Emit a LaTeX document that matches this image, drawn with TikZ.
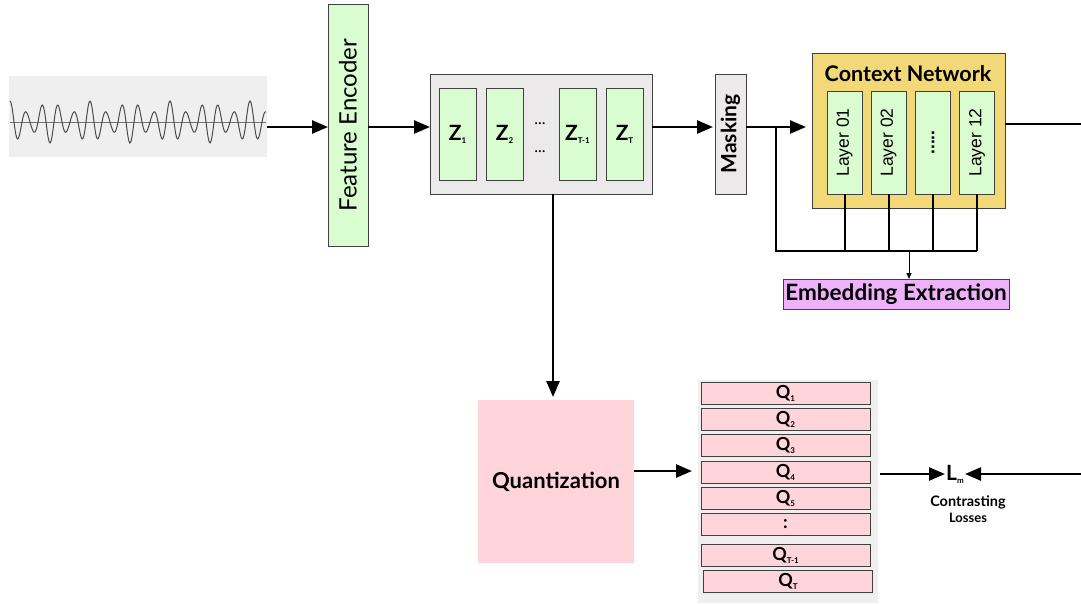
\documentclass[tikz,border=0pt]{standalone}
\usepackage{fontspec}
\setmainfont{Lato}
\newfontfamily\layerfont{Liberation Sans}
\usetikzlibrary{arrows.meta}

\definecolor{wavegray}{HTML}{EFEFEF}
\definecolor{encgreen}{HTML}{D9FCD0}
\definecolor{boxgray}{HTML}{EBE9E9}
\definecolor{ctxyellow}{HTML}{F2D877}
\definecolor{embviolet}{HTML}{EEB2FA}
\definecolor{qpink}{HTML}{FFD4DB}

\newcommand{\lowidx}[1]{\raisebox{-3pt}{\fontsize{8}{8}\selectfont #1}}

\tikzset{
    block/.style={draw=black!75, line width=1pt, inner sep=0pt, outer sep=0pt},
    zcell/.style={block, fill=encgreen, minimum width=37, minimum height=92, font=\fontsize{21}{21}\selectfont\bfseries},
    layercell/.style={block, fill=encgreen, minimum width=35, minimum height=103},
    layertext/.style={rotate=90, font=\layerfont\fontsize{17.5}{17.5}\selectfont},
    qrow/.style={block, fill=qpink, minimum width=169, minimum height=22, font=\fontsize{18}{18}\selectfont\bfseries},
    flow/.style={line width=2.5pt, -{Triangle[length=16pt,width=13pt]}},
    tap/.style={line width=2pt}
}

\begin{document}
\begin{tikzpicture}[x=1pt, y=-1pt]
    \useasboundingbox (0,0) rectangle (1081,603);
    \coordinate (mid) at (0,127);

    % input signal
    \node (wave) at (138,116.5) [fill=wavegray, minimum width=258, minimum height=81, inner sep=0, outer sep=0] {};
    \draw [black!55, line width=1pt] (10,122) -- (266,122);
    \draw [black!70, line width=1pt, smooth] plot [domain=10:266, samples=300]
        ({\x}, {122 - (15 + 6*sin(\x*9))*sin((\x-10)*22.5 + 90)});

    % feature encoder
    \node (enc) at (348,125) [block, fill=encgreen, minimum width=40, minimum height=242,
        label={[rotate=90, font=\fontsize{24}{24}\selectfont]center:Feature Encoder}] {};

    % latent frames
    \node (zbox) at (541,134) [block, fill=boxgray, minimum width=222, minimum height=120] {};
    \node (z1) at (457.5,134) [zcell] {Z\lowidx{1}};
    \node (z2) at (504.5,134) [zcell] {Z\lowidx{2}};
    \node (zt1) at (577.5,134) [zcell] {Z\lowidx{T-1}};
    \node (zt) at (624.5,134) [zcell] {Z\lowidx{T}};
    \node (dotsa) at (540,124) [font=\fontsize{16}{16}\selectfont] {...};
    \node (dotsb) at (540,152) [font=\fontsize{16}{16}\selectfont] {...};

    % masking
    \node (mask) at (730.5,134) [block, fill=boxgray, minimum width=31, minimum height=120,
        label={[rotate=90, font=\fontsize{21}{21}\selectfont\bfseries]center:Masking}] {};

    % context network
    \node (ctx) at (908.5,130.5) [block, fill=ctxyellow, minimum width=193, minimum height=155] {};
    \node (ctxtitle) at (908,74) [font=\fontsize{21.5}{21.5}\selectfont\bfseries] {Context Network};
    \node (l1) at (844.5,142.5) [layercell, label={[layertext]center:Layer 01}] {};
    \node (l2) at (888.5,142.5) [layercell, label={[layertext]center:Layer 02}] {};
    \node (l3) at (933,142.5) [layercell, label={[layertext, font=\layerfont\fontsize{17.5}{17.5}\selectfont\bfseries]center:.....}] {};
    \node (l4) at (977,142.5) [layercell, label={[layertext]center:Layer 12}] {};

    \node (emb) at (896,294) [block, fill=embviolet, minimum width=226, minimum height=30,
        font=\fontsize{22.5}{22.5}\selectfont\bfseries] {Embedding Extraction};

    % quantization
    \node (quant) at (556,481.5) [block, draw=none, fill=qpink, minimum width=156, minimum height=163,
        font=\fontsize{22}{22}\selectfont\bfseries] {Quantization};
    \node (qbox) at (788,491.5) [fill=wavegray, inner sep=0, outer sep=0, minimum width=180, minimum height=223] {};
    \node (q1) at (785.5,393) [qrow] {Q\lowidx{1}};
    \node (q2) at (785.5,419) [qrow] {Q\lowidx{2}};
    \node (q3) at (785.5,445) [qrow] {Q\lowidx{3}};
    \node (q4) at (785.5,472) [qrow] {Q\lowidx{4}};
    \node (q5) at (785.5,498) [qrow] {Q\lowidx{5}};
    \node (q6) at (785.5,524) [qrow] {:};
    \node (q7) at (785.5,555) [qrow] {Q\lowidx{T-1}};
    \node (q8) at (788,581) [qrow] {Q\lowidx{T}};

    % loss
    \node (loss) at (955,474) [font=\fontsize{21}{21}\selectfont\bfseries, inner sep=1pt] {L\lowidx{m}};
    \node (losstext) at (968,509) [align=center, font=\fontsize{14.5}{17}\selectfont\bfseries] {Contrasting\\[-1pt]{\fontsize{13}{13}\selectfont Losses}};

    % connectors
    \coordinate (ctxout) at (1081,124);
    \coordinate (lossin) at (1081,474);
    \coordinate (split) at (776,127);
    \coordinate (gather) at (776,251);
    \draw [flow] (wave.east |- mid) -- (enc.west |- mid);
    \draw [flow] (enc.east |- mid) -- (zbox.west |- mid);
    \draw [flow] (zbox.east |- mid) -- ([xshift=-2pt]mask.west |- mid);
    \draw [flow] (mask.east |- mid) -- ([xshift=-6pt]ctx.west |- mid);
    \draw [line width=2.5pt] (ctx.east |- ctxout) -- (ctxout);
    \draw [tap] (split) -- (gather) -- (l4.south |- gather);
    \draw [tap] (l1.south) -- (l1.south |- gather);
    \draw [tap] (l2.south) -- (l2.south |- gather);
    \draw [tap] (l3.south) -- (l3.south |- gather);
    \draw [tap] (l4.south) -- (l4.south |- gather);
    \draw [line width=1pt, -{Triangle[length=6pt,width=5pt]}] ([xshift=13pt]emb.north |- gather) -- ([xshift=13pt]emb.north);
    \draw [flow] ([xshift=12pt]zbox.south) -- ([xshift=-3pt, yshift=3pt]quant.north);
    \draw [flow] (quant.east |- 0,471) -- ([xshift=-6pt]qbox.west |- 0,471);
    \draw [flow] ([xshift=2pt]qbox.east |- loss) -- (loss.west);
    \draw [flow] (lossin) -- (loss.east);
\end{tikzpicture}
\end{document}
